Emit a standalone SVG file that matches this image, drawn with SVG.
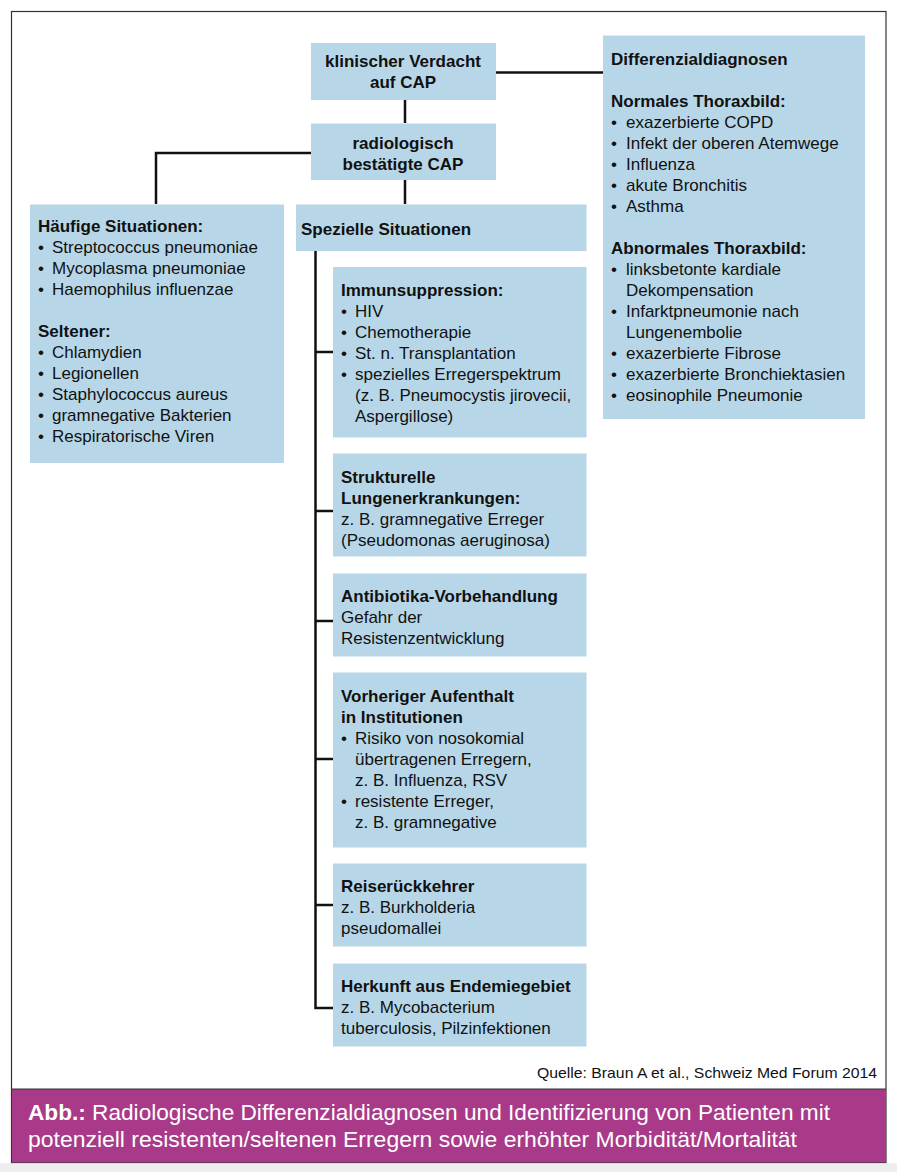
<svg xmlns="http://www.w3.org/2000/svg" width="897" height="1172" viewBox="0 0 897 1172">
<style>
  .box{fill:#B7D7E8;}
  .t{font-family:"Liberation Sans",Arial,Helvetica,sans-serif;font-size:17px;fill:#111;}
  .b{font-weight:bold;}
  .c{text-anchor:middle;}
  .ln{stroke:#111;stroke-width:2.5;fill:none;}
  .cap{font-family:"Liberation Sans",Arial,Helvetica,sans-serif;font-size:21.5px;fill:#fff;}
</style>
<rect x="0" y="0" width="897" height="1172" fill="#fff"/>
<rect x="0" y="1163" width="897" height="9" fill="#eeeeee"/>
<rect x="11.5" y="11.5" width="874.5" height="1151" fill="#fff" stroke="#333" stroke-width="1.2"/>
<rect x="12" y="1089" width="874" height="73.5" fill="#A83A89"/>
<line x1="11.5" y1="1089" x2="886" y2="1089" stroke="#333" stroke-width="1"/>

<g id="connectors">
  <path class="ln" d="M405 100 V123"/>
  <path class="ln" d="M495 72.5 H603"/>
  <path class="ln" d="M311 153 H156 V204"/>
  <path class="ln" d="M405 180 V204"/>
  <path class="ln" d="M315.5 251 V1008 H333"/>
  <path class="ln" d="M315.5 352 H333"/>
  <path class="ln" d="M315.5 511 H333"/>
  <path class="ln" d="M315.5 621 H333"/>
  <path class="ln" d="M315.5 759 H333"/>
  <path class="ln" d="M315.5 905 H333"/>
</g>

<g id="verdacht">
  <rect class="box" x="311" y="43" width="185" height="57"/>
  <text class="t b c" x="403" y="67">klinischer Verdacht</text>
  <text class="t b c" x="403" y="88">auf CAP</text>
</g>

<g id="radiologisch">
  <rect class="box" x="311" y="123.5" width="185" height="56.5"/>
  <text class="t b c" x="403" y="149">radiologisch</text>
  <text class="t b c" x="403" y="170">bestätigte CAP</text>
</g>

<g id="differenzial">
  <rect class="box" x="603" y="35.5" width="262" height="383.5"/>
  <text class="t b" x="611" y="65">Differenzialdiagnosen</text>
  <text class="t b" x="611" y="107">Normales Thoraxbild:</text>
  <text class="t" x="611" y="128">•</text><text class="t" x="626" y="128">exazerbierte COPD</text>
  <text class="t" x="611" y="149">•</text><text class="t" x="626" y="149">Infekt der oberen Atemwege</text>
  <text class="t" x="611" y="170">•</text><text class="t" x="626" y="170">Influenza</text>
  <text class="t" x="611" y="191">•</text><text class="t" x="626" y="191">akute Bronchitis</text>
  <text class="t" x="611" y="212">•</text><text class="t" x="626" y="212">Asthma</text>
  <text class="t b" x="611" y="254">Abnormales Thoraxbild:</text>
  <text class="t" x="611" y="275">•</text><text class="t" x="626" y="275">linksbetonte kardiale</text>
  <text class="t" x="626" y="296">Dekompensation</text>
  <text class="t" x="611" y="317">•</text><text class="t" x="626" y="317">Infarktpneumonie nach</text>
  <text class="t" x="626" y="338">Lungenembolie</text>
  <text class="t" x="611" y="359">•</text><text class="t" x="626" y="359">exazerbierte Fibrose</text>
  <text class="t" x="611" y="380">•</text><text class="t" x="626" y="380">exazerbierte Bronchiektasien</text>
  <text class="t" x="611" y="401">•</text><text class="t" x="626" y="401">eosinophile Pneumonie</text>
</g>

<g id="haeufige">
  <rect class="box" x="30" y="204.5" width="254" height="258.5"/>
  <text class="t b" x="38" y="232">Häufige Situationen:</text>
  <text class="t" x="38" y="253">•</text><text class="t" x="52" y="253">Streptococcus pneumoniae</text>
  <text class="t" x="38" y="274">•</text><text class="t" x="52" y="274">Mycoplasma pneumoniae</text>
  <text class="t" x="38" y="295">•</text><text class="t" x="52" y="295">Haemophilus influenzae</text>
  <text class="t b" x="38" y="337">Seltener:</text>
  <text class="t" x="38" y="358">•</text><text class="t" x="52" y="358">Chlamydien</text>
  <text class="t" x="38" y="379">•</text><text class="t" x="52" y="379">Legionellen</text>
  <text class="t" x="38" y="400">•</text><text class="t" x="52" y="400">Staphylococcus aureus</text>
  <text class="t" x="38" y="421">•</text><text class="t" x="52" y="421">gramnegative Bakterien</text>
  <text class="t" x="38" y="442">•</text><text class="t" x="52" y="442">Respiratorische Viren</text>
</g>

<g id="spezielle">
  <rect class="box" x="296" y="204.5" width="290.5" height="46.5"/>
  <text class="t b" x="301" y="235">Spezielle Situationen</text>
</g>

<g id="immunsuppression">
  <rect class="box" x="333" y="267" width="253.5" height="170.5"/>
  <text class="t b" x="341" y="296">Immunsuppression:</text>
  <text class="t" x="341" y="317">•</text><text class="t" x="355" y="317">HIV</text>
  <text class="t" x="341" y="338">•</text><text class="t" x="355" y="338">Chemotherapie</text>
  <text class="t" x="341" y="359">•</text><text class="t" x="355" y="359">St. n. Transplantation</text>
  <text class="t" x="341" y="380">•</text><text class="t" x="355" y="380">spezielles Erregerspektrum</text>
  <text class="t" x="355" y="401">(z. B. Pneumocystis jirovecii,</text>
  <text class="t" x="355" y="422">Aspergillose)</text>
</g>

<g id="strukturelle">
  <rect class="box" x="333" y="453.5" width="253.5" height="103"/>
  <text class="t b" x="341" y="483">Strukturelle</text>
  <text class="t b" x="341" y="504">Lungenerkrankungen:</text>
  <text class="t" x="341" y="525">z. B. gramnegative Erreger</text>
  <text class="t" x="341" y="546">(Pseudomonas aeruginosa)</text>
</g>

<g id="antibiotika">
  <rect class="box" x="333" y="573.5" width="253.5" height="83"/>
  <text class="t b" x="341" y="602">Antibiotika-Vorbehandlung</text>
  <text class="t" x="341" y="623">Gefahr der</text>
  <text class="t" x="341" y="644">Resistenzentwicklung</text>
</g>

<g id="vorheriger">
  <rect class="box" x="333" y="672.5" width="253.5" height="175"/>
  <text class="t b" x="341" y="702">Vorheriger Aufenthalt</text>
  <text class="t b" x="341" y="723">in Institutionen</text>
  <text class="t" x="341" y="744">•</text><text class="t" x="355" y="744">Risiko von nosokomial</text>
  <text class="t" x="355" y="765">übertragenen Erregern,</text>
  <text class="t" x="355" y="786">z. B. Influenza, RSV</text>
  <text class="t" x="341" y="807">•</text><text class="t" x="355" y="807">resistente Erreger,</text>
  <text class="t" x="355" y="828">z. B. gramnegative</text>
</g>

<g id="reiserueckkehrer">
  <rect class="box" x="333" y="863.5" width="253.5" height="83"/>
  <text class="t b" x="341" y="892">Reiserückkehrer</text>
  <text class="t" x="341" y="913">z. B. Burkholderia</text>
  <text class="t" x="341" y="934">pseudomallei</text>
</g>

<g id="herkunft">
  <rect class="box" x="333" y="963.5" width="253.5" height="83"/>
  <text class="t b" x="341" y="992">Herkunft aus Endemiegebiet</text>
  <text class="t" x="341" y="1013">z. B. Mycobacterium</text>
  <text class="t" x="341" y="1034">tuberculosis, Pilzinfektionen</text>
</g>

<text x="537" y="1078" textLength="340" lengthAdjust="spacingAndGlyphs" style="font-family:'Liberation Sans',Arial,sans-serif;font-size:15px;fill:#111;">Quelle: Braun A et al., Schweiz Med Forum 2014</text>

<g id="caption">
  <text class="cap" x="28" y="1120" textLength="802" lengthAdjust="spacingAndGlyphs"><tspan font-weight="bold">Abb.:</tspan> Radiologische Differenzialdiagnosen und Identifizierung von Patienten mit</text>
  <text class="cap" x="28" y="1147" textLength="769" lengthAdjust="spacingAndGlyphs">potenziell resistenten/seltenen Erregern sowie erhöhter Morbidität/Mortalität</text>
</g>
</svg>
